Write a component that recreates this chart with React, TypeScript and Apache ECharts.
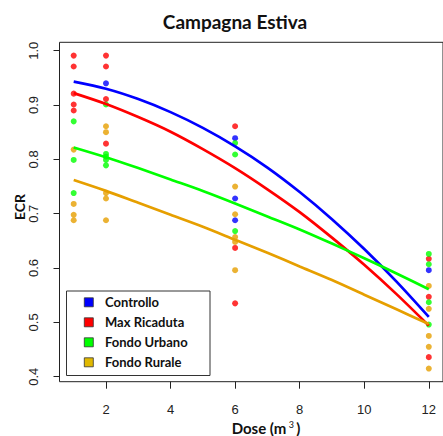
import React, { useEffect, useRef } from "react";
import * as echarts from "echarts";

// Group names, point colours and legend swatch fills
const groupNames = ["Controllo", "Max Ricaduta", "Fondo Urbano", "Fondo Rurale"];
const pointColors = ["#0000FF", "#FF0000", "#00FF00", "#E69F00"];
const swatchColors = ["#0000FF", "#FF0000", "#00FF00", "#E0B800"];

// Axis ticks
const doseTicks = [2, 4, 6, 8, 10, 12];
const ecrTicks = [0.4, 0.5, 0.6, 0.7, 0.8, 0.9, 1.0];

// Measured ECR values: [dose, ecr]
const controlloPts = [
  [2, 0.94], [6, 0.839], [6, 0.728], [6, 0.688], [12, 0.596],
];
const maxRicadutaPts = [
  [1, 0.991], [1, 0.971], [1, 0.921], [1, 0.901], [1, 0.89],
  [2, 0.991], [2, 0.971], [2, 0.911], [2, 0.829],
  [6, 0.861], [6, 0.637], [6, 0.535],
  [12, 0.617], [12, 0.547], [12, 0.436],
];
const fondoUrbanoPts = [
  [1, 0.87], [1, 0.799], [1, 0.738],
  [2, 0.901], [2, 0.81], [2, 0.805], [2, 0.799], [2, 0.789],
  [6, 0.83], [6, 0.809], [6, 0.668],
  [12, 0.626], [12, 0.607], [12, 0.537], [12, 0.496],
];
const fondoRuralePts = [
  [1, 0.818], [1, 0.718], [1, 0.698], [1, 0.688],
  [2, 0.861], [2, 0.85], [2, 0.738], [2, 0.728], [2, 0.688],
  [6, 0.75], [6, 0.699], [6, 0.657], [6, 0.648], [6, 0.596],
  [12, 0.567], [12, 0.525], [12, 0.475], [12, 0.455], [12, 0.415],
];

// Fitted trend curves sampled at each dose
const fitDose = [1, 2, 3, 4, 5, 6, 7, 8, 9, 10, 11, 12];
const controlloFit = [0.943, 0.93, 0.911, 0.887, 0.858, 0.824, 0.785, 0.74, 0.69, 0.635, 0.575, 0.51];
const maxRicadutaFit = [0.922, 0.902, 0.878, 0.851, 0.819, 0.784, 0.745, 0.703, 0.656, 0.606, 0.552, 0.494];
const fondoUrbanoFit = [0.822, 0.804, 0.784, 0.763, 0.742, 0.719, 0.695, 0.671, 0.645, 0.618, 0.59, 0.561];
const fondoRuraleFit = [0.762, 0.742, 0.72, 0.698, 0.676, 0.652, 0.628, 0.603, 0.578, 0.551, 0.524, 0.497];

const pointSets = [controlloPts, maxRicadutaPts, fondoUrbanoPts, fondoRuralePts];
const fitSets = [controlloFit, maxRicadutaFit, fondoUrbanoFit, fondoRuraleFit];

const tickFont = "'Liberation Sans', Arial, sans-serif";
const titleFont = "Lato, 'Open Sans', sans-serif";

export default function App() {
  const ref = useRef<HTMLDivElement>(null);

  useEffect(() => {
    if (!ref.current) return;
    const chart = echarts.init(ref.current, undefined, { renderer: "svg" });

    const scatterSeries = pointSets.map((pts, i) => ({
      type: "scatter",
      name: groupNames[i],
      data: pts,
      symbol: "circle",
      symbolSize: 6,
      itemStyle: { color: pointColors[i] },
      z: 2,
    }));

    const lineSeries = fitSets.map((fit, i) => ({
      type: "line",
      name: groupNames[i] + " fit",
      data: fitDose.map((d, k) => [d, fit[k]]),
      smooth: 0.3,
      symbol: "none",
      lineStyle: { color: pointColors[i], width: 2.7 },
      z: 3,
    }));

    const legendX = 66.5;
    const legendY = 291;
    const legendItems: any[] = [
      {
        type: "rect",
        shape: { x: legendX, y: legendY, width: 143.5, height: 84.5 },
        style: { fill: "#fff", stroke: "#333", lineWidth: 1 },
      },
    ];
    groupNames.forEach((name, i) => {
      const cy = 302.3 + i * 20;
      legendItems.push({
        type: "rect",
        shape: { x: 84.3, y: cy - 4.5, width: 9, height: 9 },
        style: { fill: swatchColors[i], stroke: "#333", lineWidth: 0.8 },
      });
      legendItems.push({
        type: "text",
        x: 105,
        y: cy,
        style: {
          text: name,
          fill: "#111",
          font: `bold 13px ${titleFont}`,
          verticalAlign: "middle",
        },
      });
    });

    chart.setOption({
      animation: false,
      backgroundColor: "#fff",
      grid: {
        left: 59.5,
        top: 42.3,
        width: 387.5,
        height: 339.4,
        show: true,
        borderColor: "#222",
        borderWidth: 1,
      },
      xAxis: {
        type: "value",
        min: 0.56,
        max: 12.44,
        axisLine: { show: false },
        splitLine: { show: false },
        axisTick: { show: true, customValues: doseTicks, length: 7, lineStyle: { color: "#222" } },
        axisLabel: {
          customValues: doseTicks,
          margin: 21,
          fontSize: 13,
          fontFamily: tickFont,
          color: "#222",
        },
      },
      yAxis: {
        type: "value",
        min: 0.3908,
        max: 1.0155,
        axisLine: { show: false },
        splitLine: { show: false },
        axisTick: { show: true, customValues: ecrTicks, length: 6, lineStyle: { color: "#222" } },
        axisLabel: {
          customValues: ecrTicks,
          rotate: 90,
          margin: 20,
          fontSize: 13,
          fontFamily: tickFont,
          color: "#222",
          formatter: (v: number) => v.toFixed(1),
        },
      },
      series: [...scatterSeries, ...lineSeries],
      graphic: [
        {
          type: "text",
          x: 235,
          y: 21,
          style: {
            text: "Campagna Estiva",
            fill: "#111",
            font: `bold 19px ${titleFont}`,
            textAlign: "center",
            verticalAlign: "middle",
          },
        },
        {
          type: "text",
          x: 19.5,
          y: 207,
          rotation: Math.PI / 2,
          style: {
            text: "ECR",
            fill: "#111",
            font: `bold 14px ${titleFont}`,
            textAlign: "center",
            verticalAlign: "middle",
          },
        },
        {
          type: "text",
          x: 266,
          y: 428,
          style: {
            text: "{a|Dose (m}{s| 3 }{a|)}",
            textAlign: "center",
            verticalAlign: "middle",
            rich: {
              a: { font: `bold 15px ${titleFont}`, fill: "#111" },
              s: { font: `9px ${titleFont}`, fill: "#111", verticalAlign: "top", padding: [0, 0, 8, 0] },
            },
          },
        },
        ...legendItems,
      ],
    });

    return () => chart.dispose();
  }, []);

  return (
    <div
      ref={ref}
      style={{ position: "fixed", left: 0, top: 0, width: 443, height: 436 }}
    />
  );
}
